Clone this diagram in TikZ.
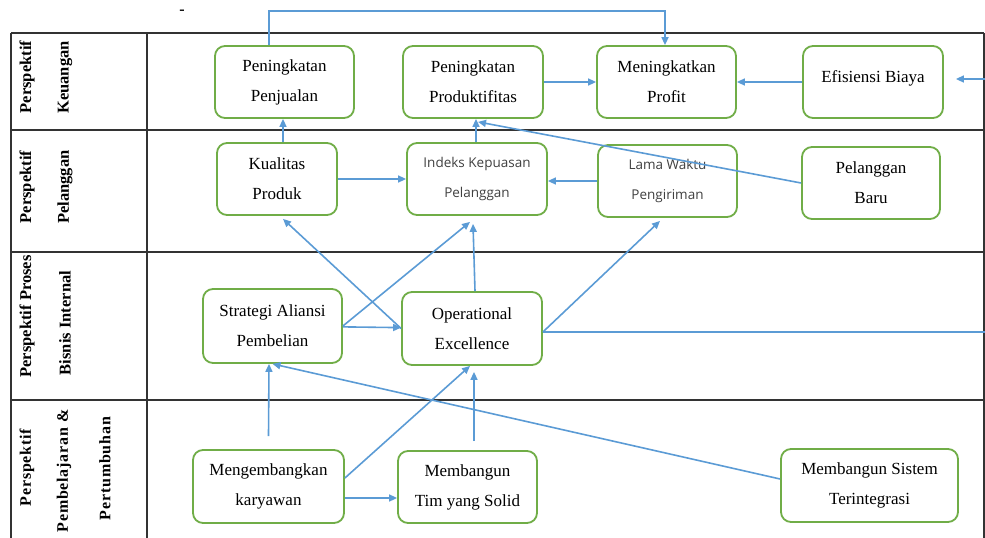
\documentclass[tikz,border=0pt]{standalone}
\usepackage{fontspec}
\setmainfont{Liberation Serif}
\newfontfamily\sansf{Open Sans}
\usetikzlibrary{arrows.meta}
\definecolor{boxgreen}{RGB}{112,173,71}
\definecolor{arrblue}{RGB}{91,155,213}
\begin{document}
\begin{tikzpicture}[x=1pt,y=-1pt,
 grid/.style={line width=1.9pt, draw=black!80},
 box/.style={draw=boxgreen, line width=1.8pt, rounded corners=10pt, fill=white, align=center, font=\fontsize{17}{30}\selectfont, inner sep=0pt},
 sbox/.style={box, font=\sansf\fontsize{13.5}{30}\selectfont, text=black!75},
 lbl/.style={rotate=90, inner sep=0pt, font=\bfseries\fontsize{16.5}{18}\selectfont},
 lblw/.style={rotate=90, inner sep=0pt, font=\bfseries\fontsize{16}{18}\selectfont\addfontfeature{LetterSpace=5}},
 arr/.style={draw=arrblue, line width=1.6pt, -{Triangle[length=8pt,width=7pt]}},
 ln/.style={draw=arrblue, line width=1.6pt}
]
\useasboundingbox (0,0) rectangle (985,538);
% table
\draw[grid] (11,33) -- (984,33);
\draw[grid] (11,130) -- (984,130);
\draw[grid] (11,252) -- (984,252);
\draw[grid] (11,400) -- (984,400);
\draw[grid] (11,33) -- (11,545);
\draw[grid] (147,33) -- (147,545);
\draw[grid] (984,33) -- (984,545);
\node[font=\bfseries\fontsize{16}{18}\selectfont] (topdash) at (182,12) {-};
% left labels
\node[lbl] (l1a) at (27,77) {Perspektif};
\node[lbl] (l1b) at (65,77.5) {Keuangan};
\node[lbl] (l2a) at (27,187) {Perspektif};
\node[lbl] (l2b) at (65,187) {Pelanggan};
\node[lbl] (l3a) at (27,316.5) {Perspektif Proses};
\node[lbl] (l3b) at (65,323) {Bisnis Internal};
\node[lblw] (l4a) at (27,467.5) {Perspektif};
\node[lblw] (l4b) at (64,471) {Pembelajaran \&};
\node[lblw] (l4c) at (105,468.5) {Pertumbuhan};
% boxes
\node[box, minimum width=139pt, minimum height=72pt] (pjl) at (284.5,82) {Peningkatan\\Penjualan};
\node[box, minimum width=140pt, minimum height=72pt] (prd) at (473,82) {Peningkatan\\Produktifitas};
\node[box, minimum width=139pt, minimum height=72pt] (prf) at (666.5,82) {Meningkatkan\\Profit};
\node[box, minimum width=140pt, minimum height=72pt] (efi) at (873,82) {\raisebox{10pt}{Efisiensi Biaya}};
\node[box, minimum width=120pt, minimum height=72pt] (kua) at (277,179) {Kualitas\\Produk};
\node[sbox, minimum width=140pt, minimum height=72pt] (ind) at (477,179) {Indeks Kepuasan\\Pelanggan};
\node[sbox, minimum width=139pt, minimum height=72pt] (lam) at (667.5,181) {Lama Waktu\\Pengiriman};
\node[box, minimum width=138pt, minimum height=72pt] (plb) at (871,183) {Pelanggan\\Baru};
\node[box, minimum width=139pt, minimum height=74pt] (str) at (272.5,326) {Strategi Aliansi\\Pembelian};
\node[box, minimum width=140pt, minimum height=73pt] (opx) at (472,328.5) {Operational\\Excellence};
\node[box, minimum width=151pt, minimum height=73pt] (mkr) at (268.5,486.5) {Mengembangkan\\karyawan};
\node[box, minimum width=139pt, minimum height=72pt] (tim) at (467.5,487) {Membangun\\Tim yang Solid};
\node[box, minimum width=177pt, minimum height=73pt] (sis) at (869.5,485.5) {Membangun Sistem\\Terintegrasi};
\coordinate (rin) at (985,79);
\coordinate (rout) at (985,332);
% connectors
\draw[arr] ([xshift=-15.5pt]pjl.north) -- ++(0,-34) -| ([xshift=-1.5pt]prf.north);
\draw[arr] (prd) -- (prf);
\draw[arr] (efi) -- (prf);
\draw[arr] (rin) -- ([xshift=12pt,yshift=3pt]efi.east);
\draw[arr] ([xshift=6pt]kua.north) -- ([xshift=-1.5pt]pjl.south);
\draw[arr] ([xshift=-1pt]ind.north) -- ([xshift=3pt]prd.south);
\draw[arr] (plb.west) -- ([xshift=5pt,yshift=-3pt]prd.south);
\draw[arr] (kua) -- (ind);
\draw[arr] (lam.west) -- (ind.east |- lam.west);
\draw[arr] (opx.west) -- ([xshift=6pt,yshift=-3pt]kua.south);
\draw[arr] (str.east) -- ([xshift=-7pt,yshift=-6pt]ind.south);
\draw[arr] (str) -- (opx);
\draw[arr] ([xshift=3pt]opx.north) -- ([xshift=-4pt,yshift=-8pt]ind.south);
\draw[arr] ([yshift=-3.5pt]opx.east) -- ([xshift=-7.5pt,yshift=-3pt]lam.south);
\draw[ln] ([yshift=-3.5pt]opx.east) -- (rout);
\draw[arr] ([yshift=13pt]mkr.north) -- ([xshift=-3.5pt]str.south);
\draw[arr] ([yshift=8.5pt]mkr.east) -- ([xshift=-2pt]opx.south);
\draw[arr] ([yshift=-11.5pt]mkr.east) -- ([yshift=-11pt]tim.west);
\draw[arr] ([xshift=6.5pt,yshift=9pt]tim.north) -- ([xshift=2pt,yshift=-6pt]opx.south);
\draw[arr] ([yshift=6.5pt]sis.west) -- (str.south);
\end{tikzpicture}
\end{document}
